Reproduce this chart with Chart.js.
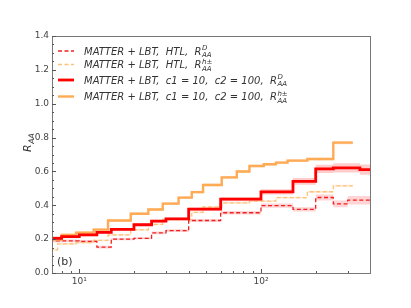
<!DOCTYPE html>
<html>
<head>
<meta charset="utf-8">
<script src="https://cdn.jsdelivr.net/npm/chart.js@4.4.1/dist/chart.umd.min.js"></script>
<style>
  html, body { margin: 0; padding: 0; background: #fff; }
</style>
</head>
<body>
<canvas id="chart" width="411" height="308"></canvas>
<script>
// D mesons, MATTER+LBT with c1=10, c2=100 (bin edges in GeV, R_AA per bin, band half width)
const dEdges = [6.3, 8, 10, 12.5, 15, 20, 25, 30, 40, 60, 100, 150, 200, 250, 350, 400]
const dValues = [0.205, 0.215, 0.225, 0.24, 0.258, 0.285, 0.306, 0.32, 0.377, 0.436, 0.479, 0.541, 0.615, 0.621, 0.611]
const dErrors = [0.012, 0.01, 0.008, 0.008, 0.008, 0.008, 0.008, 0.008, 0.01, 0.012, 0.015, 0.02, 0.025, 0.028, 0.03]

// D mesons, MATTER+LBT with HTL
const dHtlEdges = [6.3, 8, 10, 12.5, 15, 20, 25, 30, 40, 60, 100, 150, 200, 250, 300, 400]
const dHtlValues = [0.19, 0.19, 0.187, 0.153, 0.2, 0.205, 0.237, 0.25, 0.31, 0.356, 0.398, 0.376, 0.446, 0.408, 0.43]
const dHtlErrors = [0.01, 0.008, 0.008, 0.008, 0.006, 0.006, 0.008, 0.008, 0.008, 0.01, 0.012, 0.012, 0.018, 0.02, 0.025]

// charged hadrons, MATTER+LBT with c1=10, c2=100
const hEdges = [6.3, 8, 9.6, 12, 14.4, 19.2, 24, 28.8, 35.2, 41.6, 48, 60.8, 73.6, 86.4, 103.6, 120.8, 140, 180, 250, 320]
const hValues = [0.197, 0.225, 0.238, 0.256, 0.31, 0.35, 0.375, 0.41, 0.445, 0.478, 0.52, 0.565, 0.6, 0.632, 0.642, 0.652, 0.664, 0.673, 0.77]
const hErrors = [0.008, 0.008, 0.008, 0.008, 0.008, 0.008, 0.008, 0.008, 0.008, 0.008, 0.008, 0.008, 0.008, 0.008, 0.008, 0.008, 0.008, 0.008, 0.01]

// charged hadrons, MATTER+LBT with HTL
const hHtlEdges = [6.3, 7.6, 9.6, 12, 14.4, 19.2, 24, 28.8, 41.6, 48, 60.8, 86.4, 120.8, 180, 250, 320]
const hHtlValues = [0.137, 0.172, 0.18, 0.193, 0.225, 0.255, 0.287, 0.316, 0.358, 0.39, 0.414, 0.425, 0.445, 0.48, 0.515]
const hHtlErrors = [0.005, 0.005, 0.005, 0.005, 0.005, 0.005, 0.005, 0.005, 0.005, 0.005, 0.005, 0.005, 0.005, 0.006, 0.006]

// axis ticks
const xTicks = [8, 9, 10, 20, 30, 40, 50, 60, 70, 80, 90, 100, 200, 300]
const xTickLabels = {10: '10\u00b9', 100: '10\u00b2'}
const yLabelTicks = [0, 0.2, 0.4, 0.6, 0.8, 1.0, 1.2, 1.4]

const RED = '#ff0000'
const RED_DASH = '#f02020'
const ORANGE = '#ffaa55'
const ORANGE_DASH = '#ffc27a'

// turn bins into points for a stepped line, optionally shifted by +-err
function steps(edges, vals, errs, sign) {
  let pts = vals.map((v, i) => ({x: edges[i], y: v + (errs ? sign * errs[i] : 0)}))
  let last = vals.length - 1
  pts.push({x: edges[edges.length - 1], y: vals[last] + (errs ? sign * errs[last] : 0)})
  return pts
}

function bandSets(edges, vals, errs, color, order) {
  return [
    {data: steps(edges, vals, errs, 1), stepped: 'before', borderWidth: 0, pointRadius: 0, fill: false, order: order},
    {data: steps(edges, vals, errs, -1), stepped: 'before', borderWidth: 0, pointRadius: 0, fill: '-1', backgroundColor: color, order: order}
  ]
}

function lineSet(edges, vals, color, width, dash, order) {
  return {data: steps(edges, vals), stepped: 'before', borderColor: color, borderWidth: width,
    borderDash: dash, pointRadius: 0, fill: false, order: order}
}

const datasets = [
  ...bandSets(dHtlEdges, dHtlValues, dHtlErrors, 'rgba(255,60,60,0.22)', 20),
  ...bandSets(hHtlEdges, hHtlValues, hHtlErrors, 'rgba(255,190,120,0.3)', 20),
  ...bandSets(hEdges, hValues, hErrors, 'rgba(255,170,85,0.3)', 20),
  ...bandSets(dEdges, dValues, dErrors, 'rgba(255,0,0,0.2)', 20),
  lineSet(hHtlEdges, hHtlValues, ORANGE_DASH, 1.3, [4, 2.5], 4),
  lineSet(dHtlEdges, dHtlValues, RED_DASH, 1.3, [4, 2.5], 3),
  lineSet(hEdges, hValues, ORANGE, 2.4, [], 2),
  lineSet(dEdges, dValues, RED, 2.8, [], 1)
]

// draw rich text with stacked super/subscript
function richText(ctx, x, y, base, sup, sub, size) {
  ctx.font = 'italic ' + size + 'px "DejaVu Sans"'
  ctx.fillText(base, x, y)
  x += ctx.measureText(base).width + 0.5
  ctx.font = 'italic ' + (size * 0.7) + 'px "DejaVu Sans"'
  if (sup) ctx.fillText(sup, x, y - size * 0.42)
  if (sub) ctx.fillText(sub, x, y + size * 0.28)
}

const legendRows = [
  {text: 'MATTER + LBT,  HTL,  R', sup: 'D', color: RED_DASH, width: 1.3, dash: [4, 2.5], y: 51},
  {text: 'MATTER + LBT,  HTL,  R', sup: 'h\u00b1', color: ORANGE_DASH, width: 1.3, dash: [4, 2.5], y: 64.5},
  {text: 'MATTER + LBT,  c1 = 10,  c2 = 100,  R', sup: 'D', color: RED, width: 2.8, dash: [], y: 80},
  {text: 'MATTER + LBT,  c1 = 10,  c2 = 100,  R', sup: 'h\u00b1', color: ORANGE, width: 2.4, dash: [], y: 96.5}
]

const decor = {
  id: 'decor',
  afterDraw(chart) {
    const ctx = chart.ctx
    const a = chart.chartArea
    ctx.save()

    // frame
    ctx.strokeStyle = '#777'
    ctx.lineWidth = 1
    ctx.strokeRect(Math.round(a.left) + 0.5, Math.round(a.top) + 0.5, Math.round(a.right - a.left), Math.round(a.bottom - a.top))

    // inward ticks
    ctx.strokeStyle = '#555'
    ctx.beginPath()
    chart.scales.x.ticks.forEach(t => {
      let px = Math.round(chart.scales.x.getPixelForValue(t.value)) + 0.5
      let len = xTickLabels[t.value] ? 4 : 2
      ctx.moveTo(px, a.bottom)
      ctx.lineTo(px, a.bottom - len)
    })
    chart.scales.y.ticks.forEach(t => {
      let py = Math.round(chart.scales.y.getPixelForValue(t.value)) + 0.5
      let major = yLabelTicks.some(v => Math.abs(v - t.value) < 1e-6)
      ctx.moveTo(a.left, py)
      ctx.lineTo(a.left + (major ? 4 : 2), py)
    })
    ctx.stroke()

    // legend
    legendRows.forEach(r => {
      ctx.strokeStyle = r.color
      ctx.lineWidth = r.width
      ctx.setLineDash(r.dash)
      ctx.beginPath()
      ctx.moveTo(58, r.y)
      ctx.lineTo(74, r.y)
      ctx.stroke()
      ctx.setLineDash([])
      ctx.fillStyle = '#333'
      ctx.textBaseline = 'alphabetic'
      richText(ctx, 84, r.y + 3.5, r.text, r.sup, 'AA', 10)
    })

    // y axis title
    ctx.save()
    ctx.translate(31, 144)
    ctx.rotate(-Math.PI / 2)
    ctx.fillStyle = '#333'
    richText(ctx, -8, 0, 'R', null, 'AA', 11)
    ctx.restore()

    // panel label
    ctx.fillStyle = '#333'
    ctx.font = '11px "DejaVu Sans"'
    ctx.fillText('(b)', 57, 265)

    ctx.restore()
  }
}

new Chart('chart', {
  type: 'line',
  data: {datasets: datasets},
  options: {
    responsive: false,
    animation: false,
    layout: {padding: {top: 36, right: 41, left: 0, bottom: 0}},
    plugins: {legend: {display: false}, tooltip: {enabled: false}},
    scales: {
      x: {
        type: 'logarithmic',
        min: 7.08,
        max: 398,
        afterFit: s => { s.height = 35 },
        afterBuildTicks: s => { s.ticks = xTicks.map(v => ({value: v})) },
        grid: {display: false, drawTicks: false},
        border: {display: false},
        ticks: {
          autoSkip: false,
          maxRotation: 0,
          padding: 3,
          color: '#444',
          font: {family: 'DejaVu Sans', size: 9},
          callback: v => xTickLabels[v] || ''
        }
      },
      y: {
        min: 0,
        max: 1.4,
        afterFit: s => { s.width = 52 },
        grid: {display: false, drawTicks: false},
        border: {display: false},
        ticks: {
          stepSize: 0.05,
          autoSkip: false,
          padding: 3,
          color: '#444',
          font: {family: 'DejaVu Sans', size: 9},
          callback: v => yLabelTicks.some(t => Math.abs(t - v) < 1e-6) ? v.toFixed(1) : ''
        }
      }
    }
  },
  plugins: [decor]
})
</script>
</body>
</html>
